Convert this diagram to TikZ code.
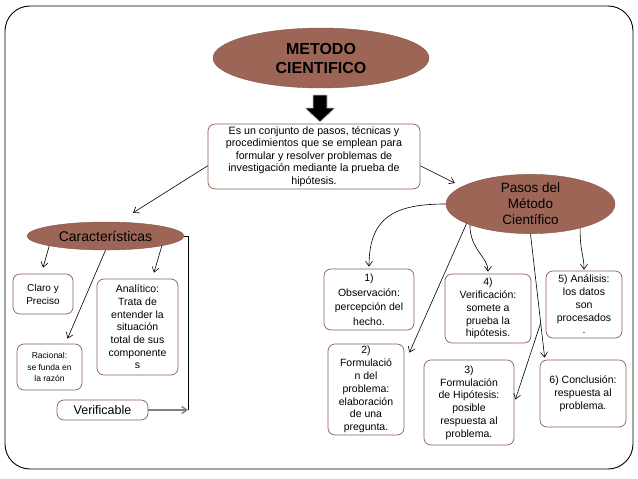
\documentclass[tikz,border=0pt]{standalone}
\usepackage{fontspec}
\setmainfont{Liberation Sans}
\usetikzlibrary{positioning,calc,arrows.meta,shapes.geometric}

\definecolor{cafe}{RGB}{156,101,86}
\definecolor{bordecafe}{RGB}{140,96,82}

\tikzset{
  caja/.style={rectangle, rounded corners=7pt, draw=bordecafe, fill=white, line width=0.7pt, align=center, inner sep=0pt, font=\fontsize{10.5}{12.8}\selectfont},
  elipse/.style={ellipse, fill=cafe, draw=cafe!85!black, line width=0.4pt, inner sep=0pt, align=center},
  flecha/.style={-{Straight Barb[length=5pt,width=7pt]}, line width=0.6pt},
}

\begin{document}
\begin{tikzpicture}[x=1pt,y=1pt]
	\useasboundingbox (0,0) rectangle (638,-479);
	\draw[rounded corners=25pt, line width=0.9pt] (5,-6) rectangle (633,-469);

	% centro
	\node[elipse, minimum width=216pt, minimum height=60pt, font=\fontsize{16}{19}\selectfont\bfseries] (titulo) at (321,-58) {METODO\\CIENTIFICO};
	\filldraw[fill=black, draw=gray!45, line width=0.8pt] (313,-95) -- (327,-95) -- (327,-108) -- (335,-108) -- (320,-122) -- (305,-108) -- (313,-108) -- cycle;
	\node[caja, minimum width=212pt, minimum height=65pt, font=\fontsize{10.7}{12.5}\selectfont] (desc) at (314,-156.5) {Es un conjunto de pasos, técnicas y\\procedimientos que se emplean para\\formular y resolver problemas de\\investigación mediante la prueba de\\hipótesis.};

	% caracteristicas
	\node[elipse, minimum width=157pt, minimum height=28pt, font=\fontsize{14}{16}\selectfont] (caract) at (105.5,-236) {Características};
	\node[caja, minimum width=60pt, minimum height=40pt, font=\fontsize{10}{13}\selectfont] (claro) at (43,-294) {Claro y\\Preciso};
	\node[caja, minimum width=65pt, minimum height=46pt, font=\fontsize{8.5}{11.5}\selectfont] (racional) at (49.5,-367) {Racional:\\se funda en\\la razón};
	\node[caja, minimum width=81pt, minimum height=96pt, font=\fontsize{10.5}{12.7}\selectfont] (analitico) at (137.5,-327) {Analítico:\\Trata de\\entender la\\situación\\total de sus\\componente\\s};
	\node[caja, minimum width=91pt, minimum height=20pt, font=\fontsize{12.5}{14}\selectfont] (verif) at (102.5,-410) {Verificable};

	% pasos
	\node[elipse, minimum width=169pt, minimum height=52pt, font=\fontsize{13.5}{16}\selectfont] (pasos) at (530.5,-204) {Pasos del\\Método\\Científico};
	\node[caja, minimum width=90pt, minimum height=61pt, font=\fontsize{10.5}{14.5}\selectfont] (obs1) at (369,-299.5) {1)\\Observación:\\percepción del\\hecho.};
	\node[caja, minimum width=76pt, minimum height=91pt] (form2) at (366,-389.5) {2)\\Formulació\\n del\\problema:\\elaboración\\de una\\pregunta.};
	\node[caja, minimum width=90pt, minimum height=85pt] (hip3) at (469,-402.5) {3)\\Formulación\\de Hipótesis:\\posible\\respuesta al\\problema.};
	\node[caja, minimum width=86pt, minimum height=69pt] (ver4) at (488,-308.5) {4)\\Verificación:\\somete a\\prueba la\\hipótesis.};
	\node[caja, minimum width=76pt, minimum height=67pt] (ana5) at (584,-304.5) {5) Análisis:\\los datos\\son\\procesados\\.};
	\node[caja, minimum width=86pt, minimum height=67pt] (con6) at (583,-393.5) {6) Conclusión:\\respuesta al\\problema.};

	\draw[flecha] (desc.185) -- ([shift={(27.5pt,9pt)}]caract.north);
	\draw[flecha] (desc.355) -- ([shift={(9pt,21pt)}]pasos.west);

	\draw[flecha] (caract.190) -- ([yshift=6pt]claro.north);
	\draw[flecha] (caract.south) -- ([shift={(18pt,5pt)}]racional.north);
	\draw[flecha] (caract.350) -- ([shift={(16.5pt,6pt)}]analitico.north);
	\coordinate (codo) at (188,-410);
	\draw[line width=0.8pt] (caract.east) -| (codo);
	\draw[flecha, draw=gray, line width=1.4pt] (verif.east) -- (codo);

	\draw[flecha] (pasos.west) to[out=180, in=90, looseness=1.3] ([yshift=2pt]obs1.north);
	\draw[flecha] (pasos.197) -- ([shift={(5pt,-9pt)}]form2.north east);
	\draw[flecha] (pasos.199) .. controls +(0,-25) and +(0,15) .. ([yshift=2pt]ver4.north);
	\draw[flecha] (pasos.334) .. controls +(0,-25) and +(0,15) .. ([yshift=1pt]ana5.north);
	\coordinate (p6) at ([shift={(5pt,2pt)}]con6.north west);
	\draw[flecha] (pasos.south) -- (p6);
	\coordinate (rama) at ($(pasos.south)!0.72!(p6)$);
	\draw[flecha] (rama) -- ([shift={(1pt,3pt)}]hip3.east);
\end{tikzpicture}
\end{document}
